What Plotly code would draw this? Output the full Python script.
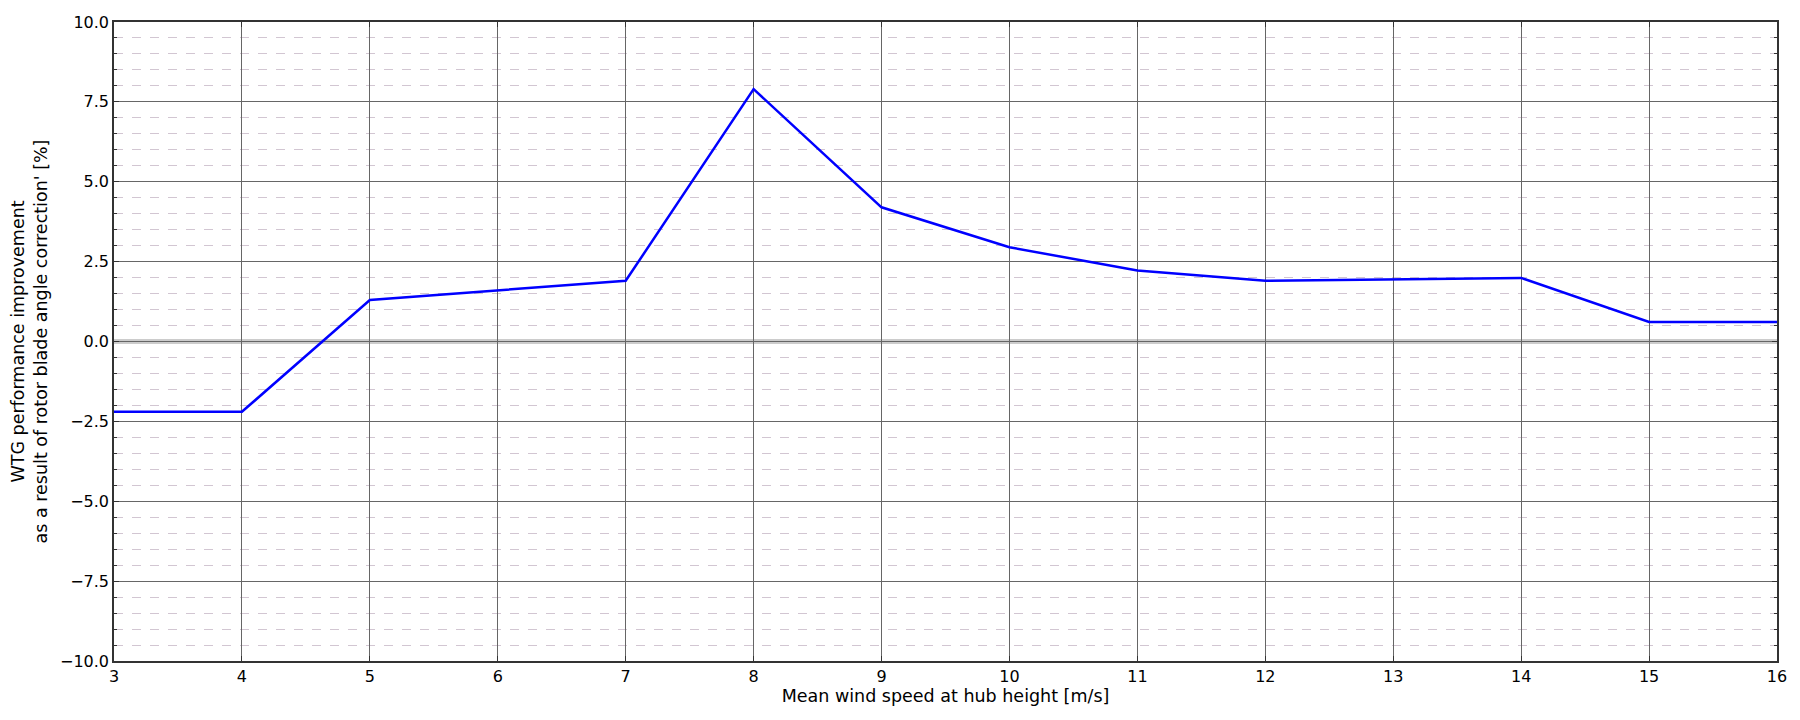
import plotly.graph_objects as go

wind_speed = [3, 4, 5, 6, 7, 8, 9, 10, 11, 12, 13, 14, 15, 16]
improvement = [-2.2, -2.2, 1.3, 1.6, 1.9, 7.9, 4.2, 2.95, 2.22, 1.9, 1.95, 1.99, 0.61, 0.61]

x_title = "Mean wind speed at hub height [m/s]"
y_title = "WTG performance improvement<br>as a result of rotor blade angle correction' [%]"

font_family = "DejaVu Sans, Verdana, sans-serif"

fig = go.Figure()

# zero reference band
fig.add_shape(type="line", xref="paper", yref="y", x0=0, x1=1, y0=0, y1=0,
              line=dict(color="rgba(170,170,170,0.6)", width=5), layer="below")

fig.add_trace(go.Scatter(x=wind_speed, y=improvement, mode="lines",
                         line=dict(color="#0000ff", width=2.5), showlegend=False))

fig.update_layout(
    width=1784, height=704,
    margin=dict(l=106, r=15, t=14, b=51),
    paper_bgcolor="white", plot_bgcolor="white",
    font=dict(family=font_family, size=16, color="black"),
)

fig.update_xaxes(
    range=[3, 16], dtick=1, tick0=3, automargin=False,
    showgrid=True, gridcolor="#666666", gridwidth=1,
    showline=True, linecolor="#333333", linewidth=1.5, mirror="ticks",
    ticks="inside", ticklen=5, tickcolor="#333333",
    zeroline=False,
    title=dict(text=x_title, font=dict(size=17.5), standoff=4),
    tickfont=dict(size=16),
)

fig.update_yaxes(
    range=[-10, 10], dtick=2.5, tick0=0, tickformat=".1f", automargin=False,
    showgrid=True, gridcolor="#666666", gridwidth=1,
    showline=True, linecolor="#333333", linewidth=1.5, mirror="ticks",
    ticks="inside", ticklen=5, tickcolor="#333333",
    zeroline=False,
    minor=dict(dtick=0.5, showgrid=True, gridcolor="#d2c6d2", griddash="dash",
               gridwidth=1, ticks="inside", ticklen=3, tickcolor="#333333"),
    title=dict(text=y_title, font=dict(size=17.5), standoff=14),
    tickfont=dict(size=16),
)

fig.write_html("out.html")
